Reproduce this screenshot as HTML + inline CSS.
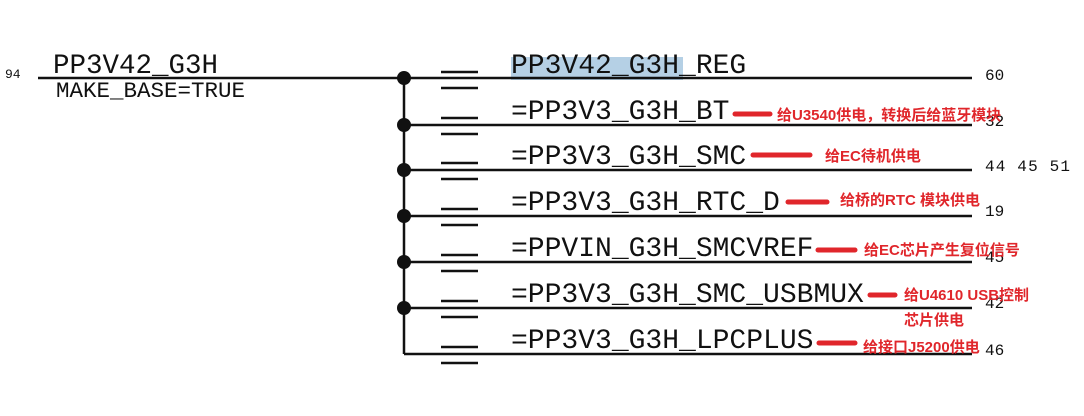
<!DOCTYPE html>
<html><head><meta charset="utf-8"><style>
html,body{margin:0;padding:0;background:#fff;}
svg{display:block}
.m{font-family:"Liberation Mono",monospace;fill:#111}
.r{font-family:"Liberation Sans","Noto Sans CJK SC",sans-serif;font-weight:bold;fill:#e0262b;font-size:15px}
</style></head><body>
<svg width="1084" height="416" xmlns="http://www.w3.org/2000/svg">
<rect x="511" y="57" width="172" height="23" fill="#b5d0e5"/>
<g stroke="#111" stroke-width="2.5">
<line x1="38" y1="78" x2="972" y2="78"/>
<line x1="404" y1="78" x2="404" y2="354"/>
<line x1="404" y1="125" x2="972" y2="125"/>
<line x1="404" y1="170" x2="972" y2="170"/>
<line x1="404" y1="216" x2="972" y2="216"/>
<line x1="404" y1="262" x2="972" y2="262"/>
<line x1="404" y1="308" x2="972" y2="308"/>
<line x1="404" y1="354" x2="972" y2="354"/>
</g>
<g stroke="#111" stroke-width="2.5">
<line x1="441" y1="72" x2="478" y2="72"/><line x1="441" y1="88" x2="478" y2="88"/>
<line x1="441" y1="118" x2="478" y2="118"/><line x1="441" y1="134" x2="478" y2="134"/>
<line x1="441" y1="163" x2="478" y2="163"/><line x1="441" y1="179" x2="478" y2="179"/>
<line x1="441" y1="209" x2="478" y2="209"/><line x1="441" y1="225" x2="478" y2="225"/>
<line x1="441" y1="255" x2="478" y2="255"/><line x1="441" y1="271" x2="478" y2="271"/>
<line x1="441" y1="301" x2="478" y2="301"/><line x1="441" y1="317" x2="478" y2="317"/>
<line x1="441" y1="347" x2="478" y2="347"/><line x1="441" y1="363" x2="478" y2="363"/>
</g>
<g fill="#111">
<circle cx="404" cy="78" r="7"/><circle cx="404" cy="125" r="7"/><circle cx="404" cy="170" r="7"/>
<circle cx="404" cy="216" r="7"/><circle cx="404" cy="262" r="7"/><circle cx="404" cy="308" r="7"/>
</g>
<text class="m" x="5" y="78" font-size="13">94</text>
<text class="m" x="53" y="73" font-size="27.5">PP3V42_G3H</text>
<text class="m" x="56" y="97" font-size="22.5">MAKE_BASE=TRUE</text>
<g class="m" font-size="28">
<text x="511" y="73">PP3V42_G3H_REG</text>
<text x="511" y="119">=PP3V3_G3H_BT</text>
<text x="511" y="164">=PP3V3_G3H_SMC</text>
<text x="511" y="210">=PP3V3_G3H_RTC_D</text>
<text x="511" y="256">=PPVIN_G3H_SMCVREF</text>
<text x="511" y="302">=PP3V3_G3H_SMC_USBMUX</text>
<text x="511" y="348">=PP3V3_G3H_LPCPLUS</text>
</g>
<g class="m" font-size="16">
<text x="985" y="80">60</text>
<text x="985" y="126">32</text>
<text x="985" y="171" textLength="85">44 45 51</text>
<text x="985" y="216">19</text>
<text x="985" y="262">45</text>
<text x="985" y="308">42</text>
<text x="985" y="355">46</text>
</g>
<g stroke="#e0262b" stroke-width="5" stroke-linecap="round">
<line x1="735" y1="114" x2="770" y2="114"/>
<line x1="753" y1="155" x2="810" y2="155"/>
<line x1="788" y1="202" x2="827" y2="202"/>
<line x1="818" y1="250" x2="855" y2="250"/>
<line x1="870" y1="295" x2="895" y2="295"/>
<line x1="819" y1="343" x2="855" y2="343"/>
</g>
<text class="r" x="777" y="120">给U3540供电，转换后给蓝牙模块</text>
<text class="r" x="825" y="161">给EC待机供电</text>
<text class="r" x="840" y="205">给桥的RTC 模块供电</text>
<text class="r" x="864" y="255">给EC芯片产生复位信号</text>
<text class="r" x="904" y="300">给U4610 USB控制</text>
<text class="r" x="904" y="325">芯片供电</text>
<text class="r" x="863" y="352">给接口J5200供电</text>
</svg>
</body></html>
